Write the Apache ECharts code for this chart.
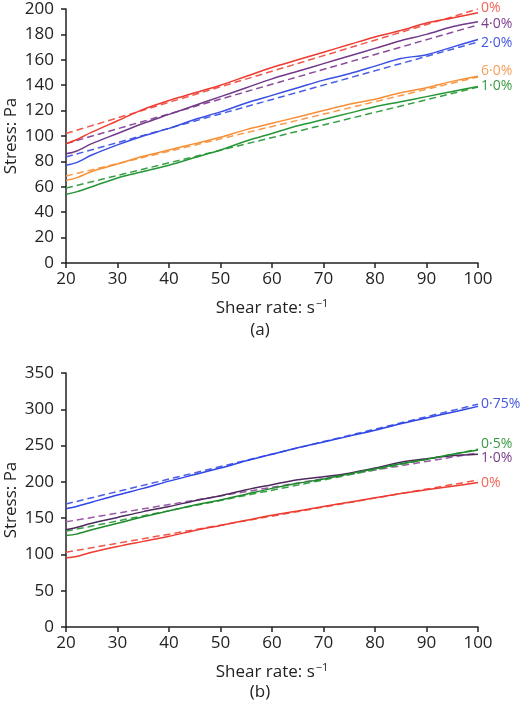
<!DOCTYPE html>
<html>
<head>
<meta charset="utf-8">
<script src="https://cdn.jsdelivr.net/npm/echarts@6/dist/echarts.min.js"></script>
<style>
  html, body { margin: 0; padding: 0; background: #fff; }
  #chart { width: 520px; height: 704px; }
</style>
</head>
<body>
<div id="chart"></div>
<script>
// shear rate sample points (s^-1)
var shearRate = [20, 22, 25, 30, 35, 40, 45, 50, 55, 60, 65, 70, 75, 80, 85, 90, 95, 100];
var fitRate = [20, 100];

// (a) measured stress, Pa
var a0 = [94, 97, 103, 112, 121, 128, 134, 140, 147, 154, 160, 166, 172, 178, 183, 189, 193, 197];
var a40 = [86, 88, 94, 102, 110, 117, 124, 131, 138, 145, 151, 157, 163, 169, 175, 180, 186, 190];
var a20 = [77, 79, 85, 93, 100, 106, 113, 119, 126, 132, 138, 144, 149, 155, 161, 164, 170, 176];
var a60 = [65, 67, 72, 78, 84, 89, 94, 99, 105, 110, 115, 120, 125, 129, 134, 138, 143, 147];
var a10 = [54, 56, 60, 67, 72, 77, 83, 89, 96, 102, 108, 113, 118, 123, 127, 131, 135, 139];
// (a) fitted lines (ends)
var a0Fit = [102, 200];
var a40Fit = [94, 187.5];
var a20Fit = [83.5, 174];
var a60Fit = [68.5, 146.5];
var a10Fit = [59, 138.5];

// (b) measured stress, Pa
var b075 = [163, 166, 172, 182, 191, 201, 210, 219, 229, 238, 247, 255, 263, 271, 280, 288, 296, 304];
var b10 = [134, 137, 143, 151, 159, 166, 174, 181, 189, 196, 203, 207, 212, 219, 227, 232, 236, 238];
var b05 = [126, 128, 134, 143, 152, 160, 168, 175, 183, 191, 198, 204, 211, 218, 225, 231, 238, 244];
var b0 = [95, 97, 103, 111, 118, 125, 133, 140, 147, 154, 160, 166, 172, 178, 184, 189, 194, 199];
// (b) fitted lines (ends)
var b075Fit = [169.5, 307];
var b10Fit = [145, 240];
var b05Fit = [132, 245];
var b0Fit = [103, 202.5];

function pairs(xs, ys) {
  return xs.map(function (x, i) { return [x, ys[i]]; });
}

var font = '"Open Sans", sans-serif';
var axisCol = '#222';

function xAxisFor(idx) {
  return {
    type: 'value', gridIndex: idx, min: 20, max: 100, interval: 10,
    name: '{n|Shear rate: s}{s|−1}',
    nameLocation: 'middle', nameGap: 35,
    nameTextStyle: {
      rich: {
        n: { fontSize: 17, color: axisCol, fontFamily: font },
        s: { fontSize: 11, color: axisCol, fontFamily: font, padding: [0, 0, 9, 1] }
      }
    },
    axisLine: { lineStyle: { color: axisCol, width: 1.5 } },
    axisTick: { show: true, inside: false, length: 5, lineStyle: { color: axisCol, width: 1.5 } },
    axisLabel: { fontSize: 17, color: axisCol, fontFamily: font, margin: 8 },
    splitLine: { show: false }
  };
}

function yAxisFor(idx, max, interval) {
  return {
    type: 'value', gridIndex: idx, min: 0, max: max, interval: interval,
    name: 'Stress: Pa', nameLocation: 'middle', nameGap: 46, nameMoveOverlap: false,
    nameTextStyle: { fontSize: 17, color: axisCol, fontFamily: font },
    axisLine: { show: true, lineStyle: { color: axisCol, width: 1.5 } },
    axisTick: { show: true, inside: false, length: 5, lineStyle: { color: axisCol, width: 1.5 } },
    axisLabel: { fontSize: 17, color: axisCol, fontFamily: font, margin: 12 },
    splitLine: { show: false }
  };
}

function solid(idx, ys, color, label, labelColor, dy) {
  var s = {
    type: 'line', xAxisIndex: idx, yAxisIndex: idx,
    data: pairs(shearRate, ys), showSymbol: false, smooth: 0.3,
    lineStyle: { color: color, width: 1.5 },
    z: 3
  };
  if (label) {
    s.name = label;
    s.endLabel = {
      show: true, formatter: label, color: labelColor, fontSize: 14,
      fontFamily: font, distance: 3, offset: [0, dy]
    };
  }
  return s;
}

function fit(idx, ys, color) {
  return {
    type: 'line', xAxisIndex: idx, yAxisIndex: idx,
    data: pairs(fitRate, ys), showSymbol: false,
    lineStyle: { color: color, width: 1.5, type: [7, 4] },
    z: 2
  };
}

var chart = echarts.init(document.getElementById('chart'));
chart.setOption({
  animation: false,
  backgroundColor: '#fff',
  title: [
    { text: '(a)', left: 'center', top: 322, textStyle: { fontSize: 17, fontWeight: 'normal', color: axisCol, fontFamily: font }, padding: 0 },
    { text: '(b)', left: 'center', top: 684, textStyle: { fontSize: 17, fontWeight: 'normal', color: axisCol, fontFamily: font }, padding: 0 }
  ],
  grid: [
    { left: 66, right: 42, top: 9, height: 254, outerBoundsMode: 'none' },
    { left: 66, right: 42, top: 373, height: 254, outerBoundsMode: 'none' }
  ],
  xAxis: [xAxisFor(0), xAxisFor(1)],
  yAxis: [yAxisFor(0, 200, 20), yAxisFor(1, 350, 50)],
  series: [
    fit(0, a0Fit, '#f0584e'),
    fit(0, a40Fit, '#8a4d9c'),
    fit(0, a20Fit, '#4a5ee8'),
    fit(0, a60Fit, '#f89a46'),
    fit(0, a10Fit, '#36a044'),
    solid(0, a0, '#ee3b30', '0%', '#f0665a', -5),
    solid(0, a40, '#72398a', '4·0%', '#7a3d8c', 2),
    solid(0, a20, '#3a4fe4', '2·0%', '#4456e0', 4),
    solid(0, a60, '#f78f36', '6·0%', '#f5a05a', -5),
    solid(0, a10, '#269636', '1·0%', '#3a9a44', 0),

    fit(1, b075Fit, '#4a5ee8'),
    fit(1, b10Fit, '#9a5aa8'),
    fit(1, b05Fit, '#36a044'),
    fit(1, b0Fit, '#f0584e'),
    solid(1, b075, '#2f45e6', '0·75%', '#4456e0', -2),
    solid(1, b10, '#4e2a5e', '1·0%', '#7a3d8c', 4),
    solid(1, b05, '#1f8a2c', '0·5%', '#3a9a44', -6),
    solid(1, b0, '#ee3b30', '0%', '#f0665a', 0)
  ]
});
</script>
</body>
</html>
